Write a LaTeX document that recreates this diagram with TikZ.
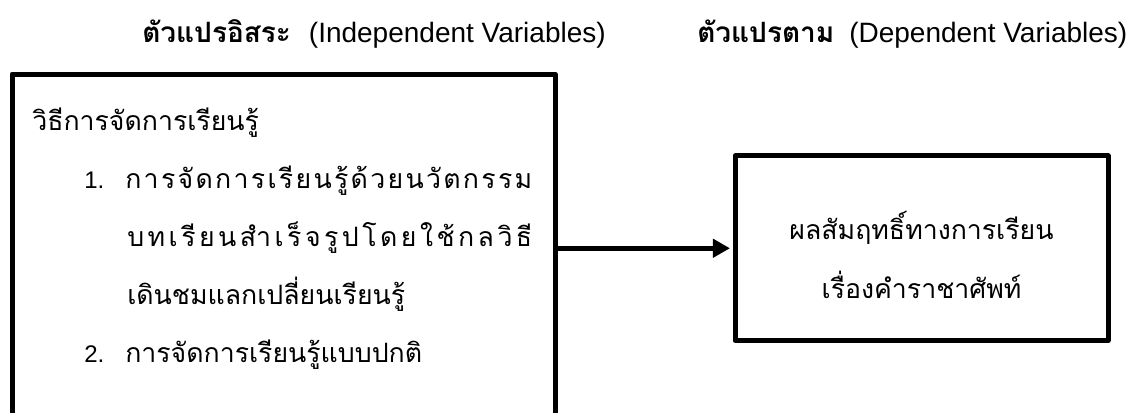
\documentclass[tikz,border=0pt]{standalone}
\usepackage{fontspec}
\setmainfont{Liberation Sans}
\newfontfamily\thai[Script=Thai]{Loma}
\usetikzlibrary{arrows.meta}
\newcommand\gx{\hfil}
\begin{document}
\begin{tikzpicture}[x=0.75pt,y=-0.75pt,
  box/.style={draw,line width=3.75pt,line join=round,inner sep=0pt},
  hdr/.style={anchor=base west,inner sep=0pt,font=\fontsize{21}{25}\selectfont},
  body/.style={anchor=base west,inner sep=0pt,font=\thai\fontsize{20}{24}\selectfont},
  bodyc/.style={anchor=base,inner sep=0pt,font=\thai\fontsize{20}{24}\selectfont},
  num/.style={anchor=base west,inner sep=0pt,font=\fontsize{18}{21}\selectfont},
  link/.style={line width=3.75pt,-{Triangle[length=12.75pt,width=13.5pt]},shorten >=1.9pt}]
\clip (0,0) rectangle (1134,412);
\fill[white] (0,0) rectangle (1134,412);
% headers
\node[hdr] (h1) at (142,42) {\makebox[125pt][l]{\thai\bfseries ตัวแปรอิสระ}(Independent Variables)};
\node[hdr] (h2) at (697,42) {\makebox[114pt][l]{\thai\bfseries ตัวแปรตาม}(Dependent Variables)};
% boxes
\node[box,minimum width=407.25pt,minimum height=289.5pt] (ind) at (283.5,267) {};
\node[box,minimum width=279.75pt,minimum height=138.4pt] (dep) at (921.5,248.25) {};
% left box text
\node[body] (t0) at (32,130) {วิธีการจัดการเรียนรู้};
\node[num] (n1) at (84,188) {1.};
\node[body] (t1) at (125,188) {\makebox[305.25pt][s]{ก\gx า\gx ร\gx จั\gx ด\gx ก\gx า\gx ร\gx เ\gx รี\gx ย\gx น\gx รู้\gx ด้\gx ว\gx ย\gx น\gx วั\gx ต\gx ก\gx ร\gx ร\gx ม}};
\node[body] (t2) at (127,246) {\makebox[303.75pt][s]{บ\gx ท\gx เ\gx รี\gx ย\gx น\gx สำ\gx เ\gx ร็\gx จ\gx รู\gx ป\gx โ\gx ด\gx ย\gx ใ\gx ช้\gx ก\gx ล\gx วิ\gx ธี}};
\node[body] (t3) at (127,304) {เดินชมแลกเปลี่ยนเรียนรู้};
\node[num] (n2) at (84,362) {2.};
\node[body] (t4) at (125,362) {การจัดการเรียนรู้แบบปกติ};
% right box text
\node[bodyc] (r1) at (921.5,239) {ผลสัมฤทธิ์ทางการเรียน};
\node[bodyc] (r2) at (921.5,298) {เรื่องคำราชาศัพท์};
% connector
\draw[link] (dep.west -| ind.east) -- (dep.west);
\end{tikzpicture}
\end{document}
